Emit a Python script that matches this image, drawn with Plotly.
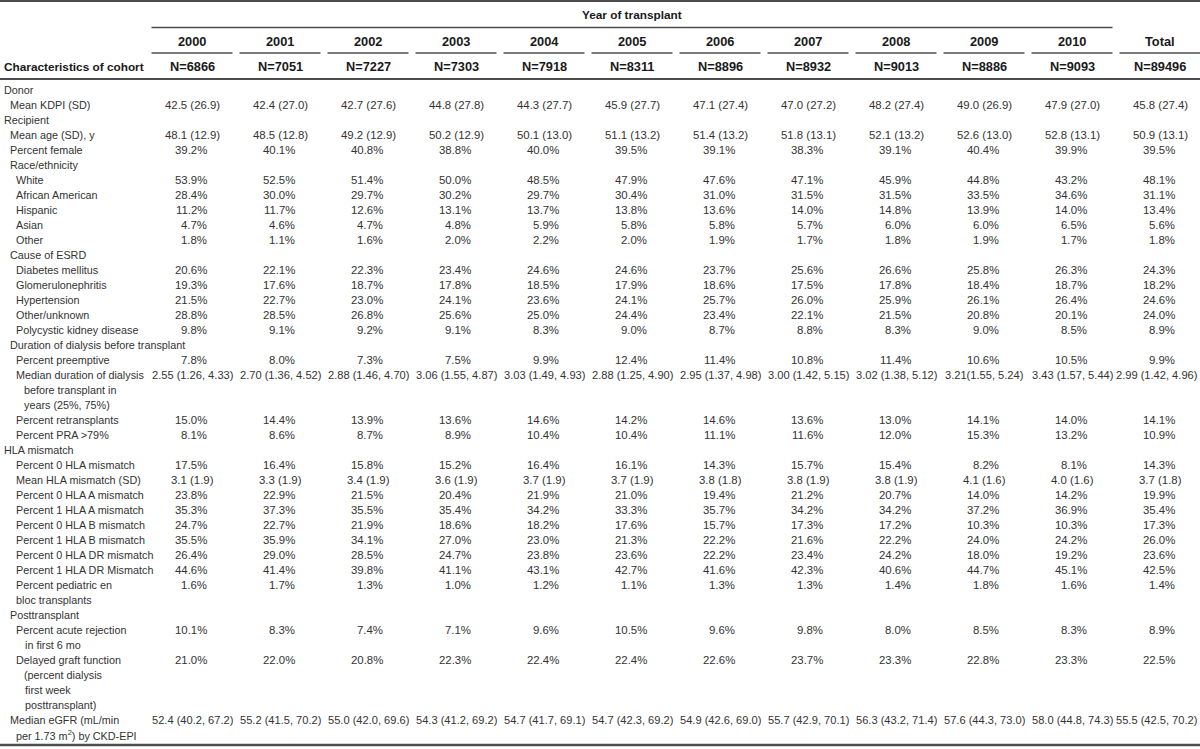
import plotly.graph_objects as go

# ---------------- data ----------------
years = ["2000", "2001", "2002", "2003", "2004", "2005", "2006", "2007", "2008", "2009", "2010", "Total"]
n_counts = [6866, 7051, 7227, 7303, 7918, 8311, 8896, 8932, 9013, 8886, 9093, 89496]

mean_kdpi = ["42.5 (26.9)", "42.4 (27.0)", "42.7 (27.6)", "44.8 (27.8)", "44.3 (27.7)", "45.9 (27.7)",
             "47.1 (27.4)", "47.0 (27.2)", "48.2 (27.4)", "49.0 (26.9)", "47.9 (27.0)", "45.8 (27.4)"]
mean_age = ["48.1 (12.9)", "48.5 (12.8)", "49.2 (12.9)", "50.2 (12.9)", "50.1 (13.0)", "51.1 (13.2)",
            "51.4 (13.2)", "51.8 (13.1)", "52.1 (13.2)", "52.6 (13.0)", "52.8 (13.1)", "50.9 (13.1)"]
pct_female = [39.2, 40.1, 40.8, 38.8, 40.0, 39.5, 39.1, 38.3, 39.1, 40.4, 39.9, 39.5]
white = [53.9, 52.5, 51.4, 50.0, 48.5, 47.9, 47.6, 47.1, 45.9, 44.8, 43.2, 48.1]
african_american = [28.4, 30.0, 29.7, 30.2, 29.7, 30.4, 31.0, 31.5, 31.5, 33.5, 34.6, 31.1]
hispanic = [11.2, 11.7, 12.6, 13.1, 13.7, 13.8, 13.6, 14.0, 14.8, 13.9, 14.0, 13.4]
asian = [4.7, 4.6, 4.7, 4.8, 5.9, 5.8, 5.8, 5.7, 6.0, 6.0, 6.5, 5.6]
other_race = [1.8, 1.1, 1.6, 2.0, 2.2, 2.0, 1.9, 1.7, 1.8, 1.9, 1.7, 1.8]
diabetes = [20.6, 22.1, 22.3, 23.4, 24.6, 24.6, 23.7, 25.6, 26.6, 25.8, 26.3, 24.3]
glomerulonephritis = [19.3, 17.6, 18.7, 17.8, 18.5, 17.9, 18.6, 17.5, 17.8, 18.4, 18.7, 18.2]
hypertension = [21.5, 22.7, 23.0, 24.1, 23.6, 24.1, 25.7, 26.0, 25.9, 26.1, 26.4, 24.6]
other_unknown = [28.8, 28.5, 26.8, 25.6, 25.0, 24.4, 23.4, 22.1, 21.5, 20.8, 20.1, 24.0]
polycystic = [9.8, 9.1, 9.2, 9.1, 8.3, 9.0, 8.7, 8.8, 8.3, 9.0, 8.5, 8.9]
preemptive = [7.8, 8.0, 7.3, 7.5, 9.9, 12.4, 11.4, 10.8, 11.4, 10.6, 10.5, 9.9]
median_dialysis = ["2.55 (1.26, 4.33)", "2.70 (1.36, 4.52)", "2.88 (1.46, 4.70)", "3.06 (1.55, 4.87)",
                   "3.03 (1.49, 4.93)", "2.88 (1.25, 4.90)", "2.95 (1.37, 4.98)", "3.00 (1.42, 5.15)",
                   "3.02 (1.38, 5.12)", "3.21(1.55, 5.24)", "3.43 (1.57, 5.44)", "2.99 (1.42, 4.96)"]
retransplants = [15.0, 14.4, 13.9, 13.6, 14.6, 14.2, 14.6, 13.6, 13.0, 14.1, 14.0, 14.1]
pra_gt79 = [8.1, 8.6, 8.7, 8.9, 10.4, 10.4, 11.1, 11.6, 12.0, 15.3, 13.2, 10.9]
hla_0 = [17.5, 16.4, 15.8, 15.2, 16.4, 16.1, 14.3, 15.7, 15.4, 8.2, 8.1, 14.3]
mean_hla = ["3.1 (1.9)", "3.3 (1.9)", "3.4 (1.9)", "3.6 (1.9)", "3.7 (1.9)", "3.7 (1.9)",
            "3.8 (1.8)", "3.8 (1.9)", "3.8 (1.9)", "4.1 (1.6)", "4.0 (1.6)", "3.7 (1.8)"]
hla_a0 = [23.8, 22.9, 21.5, 20.4, 21.9, 21.0, 19.4, 21.2, 20.7, 14.0, 14.2, 19.9]
hla_a1 = [35.3, 37.3, 35.5, 35.4, 34.2, 33.3, 35.7, 34.2, 34.2, 37.2, 36.9, 35.4]
hla_b0 = [24.7, 22.7, 21.9, 18.6, 18.2, 17.6, 15.7, 17.3, 17.2, 10.3, 10.3, 17.3]
hla_b1 = [35.5, 35.9, 34.1, 27.0, 23.0, 21.3, 22.2, 21.6, 22.2, 24.0, 24.2, 26.0]
hla_dr0 = [26.4, 29.0, 28.5, 24.7, 23.8, 23.6, 22.2, 23.4, 24.2, 18.0, 19.2, 23.6]
hla_dr1 = [44.6, 41.4, 39.8, 41.1, 43.1, 42.7, 41.6, 42.3, 40.6, 44.7, 45.1, 42.5]
pediatric_en_bloc = [1.6, 1.7, 1.3, 1.0, 1.2, 1.1, 1.3, 1.3, 1.4, 1.8, 1.6, 1.4]
acute_rejection = [10.1, 8.3, 7.4, 7.1, 9.6, 10.5, 9.6, 9.8, 8.0, 8.5, 8.3, 8.9]
delayed_graft = [21.0, 22.0, 20.8, 22.3, 22.4, 22.4, 22.6, 23.7, 23.3, 22.8, 23.3, 22.5]
median_egfr = ["52.4 (40.2, 67.2)", "55.2 (41.5, 70.2)", "55.0 (42.0, 69.6)", "54.3 (41.2, 69.2)",
               "54.7 (41.7, 69.1)", "54.7 (42.3, 69.2)", "54.9 (42.6, 69.0)", "55.7 (42.9, 70.1)",
               "56.3 (43.2, 71.4)", "57.6 (44.3, 73.0)", "58.0 (44.8, 74.3)", "55.5 (42.5, 70.2)"]

# label lines: (text, indent level)
label_lines = [
    ("Donor", 0), ("Mean KDPI (SD)", 1), ("Recipient", 0), ("Mean age (SD), y", 1),
    ("Percent female", 1), ("Race/ethnicity", 1), ("White", 2), ("African American", 2),
    ("Hispanic", 2), ("Asian", 2), ("Other", 2), ("Cause of ESRD", 1),
    ("Diabetes mellitus", 2), ("Glomerulonephritis", 2), ("Hypertension", 2),
    ("Other/unknown", 2), ("Polycystic kidney disease", 2),
    ("Duration of dialysis before transplant", 1), ("Percent preemptive", 2),
    ("Median duration of dialysis", 2), ("before transplant in", 3), ("years (25%, 75%)", 3),
    ("Percent retransplants", 2), ("Percent PRA >79%", 2), ("HLA mismatch", 0),
    ("Percent 0 HLA mismatch", 2), ("Mean HLA mismatch (SD)", 2), ("Percent 0 HLA A mismatch", 2),
    ("Percent 1 HLA A mismatch", 2), ("Percent 0 HLA B mismatch", 2), ("Percent 1 HLA B mismatch", 2),
    ("Percent 0 HLA DR mismatch", 2), ("Percent 1 HLA DR Mismatch", 2),
    ("Percent pediatric en", 2), ("bloc transplants", 2), ("Posttransplant", 1),
    ("Percent acute rejection", 2), ("in first 6 mo", 4), ("Delayed graft function", 2),
    ("(percent dialysis", 3), ("first week", 4), ("posttransplant)", 4),
    ("Median eGFR (mL/min", 1), ("per 1.73 m<sup>2</sup>) by CKD-EPI", 2),
]

# data rows: (line index, values, kind)
data_rows = [
    (1, mean_kdpi, "sd"), (3, mean_age, "sd"), (4, pct_female, "pct"),
    (6, white, "pct"), (7, african_american, "pct"), (8, hispanic, "pct"), (9, asian, "pct"),
    (10, other_race, "pct"), (12, diabetes, "pct"), (13, glomerulonephritis, "pct"),
    (14, hypertension, "pct"), (15, other_unknown, "pct"), (16, polycystic, "pct"),
    (18, preemptive, "pct"), (19, median_dialysis, "iqr"), (22, retransplants, "pct"),
    (23, pra_gt79, "pct"), (25, hla_0, "pct"), (26, mean_hla, "sd"), (27, hla_a0, "pct"),
    (28, hla_a1, "pct"), (29, hla_b0, "pct"), (30, hla_b1, "pct"), (31, hla_dr0, "pct"),
    (32, hla_dr1, "pct"), (33, pediatric_en_bloc, "pct"), (36, acute_rejection, "pct"),
    (38, delayed_graft, "pct"), (42, median_egfr, "iqr"),
]

# ---------------- layout constants ----------------
W, H = 1200, 749
COL0, PITCH, SEG_HALF = 192, 88, 40.5
ROW0, ROW_PITCH = 90, 15
INDENT = [2, 7.5, 14, 21.5, 23]
PCT_RIGHT = 16.5
IQR_RIGHT_LIMIT = W - 1
FONT = "Liberation Sans, Arial, Helvetica, sans-serif"
TXT = "#333333"
HDR = "#1a1a1a"
LINE = "#4d4d4d"
FS_LABEL = 10.8
FS_VALUE = 11.4
FS_IQR = 11.1
FS_HDR_TXT = 11.8
FS_HDR_NUM = 12.8

col_x = [COL0 + PITCH * i for i in range(len(years))]

def row_y(i):
    return ROW0 + ROW_PITCH * i

ann = []

def add(text, x, y, size, xanchor="center", bold=False):
    ann.append(dict(
        text=f"<b>{text}</b>" if bold else text, x=x, y=y, xref="x", yref="y",
        xanchor=xanchor, yanchor="middle", showarrow=False,
        font=dict(family=FONT, size=size, color=HDR if bold else TXT),
    ))

# header
add("Year of transplant", (col_x[0] - SEG_HALF + col_x[-2] + SEG_HALF) / 2, 15, FS_HDR_TXT, bold=True)
add("Characteristics of cohort", 1.5, 66.5, FS_HDR_TXT, xanchor="left", bold=True)
for x, yr, n in zip(col_x, years, n_counts):
    add(yr, x, 41.5, FS_HDR_NUM, bold=True)
    add(f"N={n}", x, 66.5, FS_HDR_NUM, bold=True)

# labels
for i, (txt, lvl) in enumerate(label_lines):
    add(txt, INDENT[lvl], row_y(i), FS_LABEL, xanchor="left")

# values
last = len(col_x) - 1
for line_i, vals, kind in data_rows:
    for ci, (x, v) in enumerate(zip(col_x, vals)):
        if kind == "pct":
            add(f"{v:.1f}%", x + PCT_RIGHT, row_y(line_i), FS_VALUE, xanchor="right")
        elif kind == "iqr":
            if ci == last:
                add(v, IQR_RIGHT_LIMIT, row_y(line_i), FS_IQR, xanchor="right")
            else:
                add(v, x, row_y(line_i), FS_IQR)
        else:
            add(v, x, row_y(line_i), FS_VALUE)

# rules
shapes = []

def hline(x0, x1, y, w):
    shapes.append(dict(type="line", xref="x", yref="y", x0=x0, x1=x1, y0=y, y1=y,
                       line=dict(color=LINE, width=w)))

hline(0, W, 1, 2)
hline(col_x[0] - SEG_HALF, col_x[-2] + SEG_HALF, 27.5, 1.5)
for x in col_x:
    hline(x - SEG_HALF, min(x + SEG_HALF, W), 53, 1.5)
hline(0, W, 79, 2)
hline(0, W, 745, 2.5)

fig = go.Figure()
fig.add_trace(go.Scatter(x=[0, W], y=[0, H], mode="markers", marker=dict(opacity=0),
                         hoverinfo="skip", showlegend=False))
fig.update_layout(
    width=W, height=H, margin=dict(l=0, r=0, t=0, b=0),
    paper_bgcolor="white", plot_bgcolor="white",
    xaxis=dict(range=[0, W], visible=False, fixedrange=True),
    yaxis=dict(range=[H, 0], visible=False, fixedrange=True),
    annotations=ann, shapes=shapes, showlegend=False,
)
fig.write_html("out.html", config={"displayModeBar": False},
               post_script="document.body.style.margin='0';document.body.style.overflow='hidden';")
